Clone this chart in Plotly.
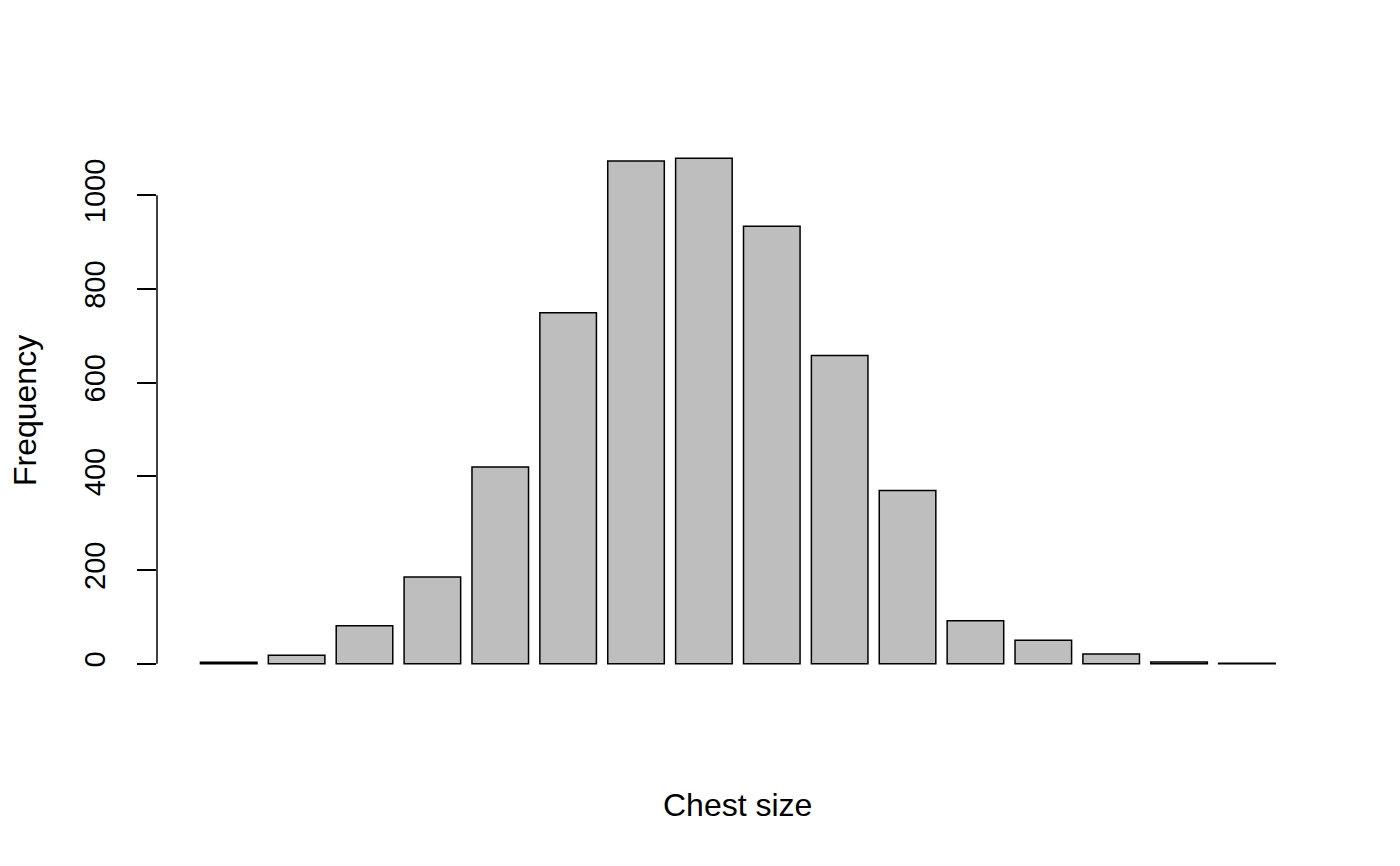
"""Bar chart of chest sizes (Scottish soldiers), R barplot style."""
import plotly.graph_objects as go

FONT = "Liberation Sans, Arial, Helvetica, sans-serif"

chest_size = [33, 34, 35, 36, 37, 38, 39, 40, 41, 42, 43, 44, 45, 46, 47, 48]
count = [3, 18, 81, 185, 420, 749, 1073, 1079, 934, 658, 370, 92, 50, 21, 4, 1]
y_ticks = [0, 200, 400, 600, 800, 1000]

# R barplot geometry: width 1, space 0.2, axis range padded by 4%
bar_pos = [0.7 + 1.2 * i for i in range(len(chest_size))]
x_lo, x_hi = 0.2, 1.2 * len(chest_size) + 0.2
x_pad = 0.04 * (x_hi - x_lo)
y_pad = 0.04 * max(count)

fig = go.Figure(
    go.Bar(
        x=bar_pos,
        y=count,
        width=1,
        customdata=chest_size,
        marker=dict(color="#BEBEBE", line=dict(color="black", width=1.5)),
        hovertemplate="Chest %{customdata}: %{y}<extra></extra>",
    )
)

# page body adds an offset, margins compensate for it
fig.update_layout(
    width=1400,
    height=866,
    margin=dict(l=149, r=78, t=130, b=190),
    plot_bgcolor="white",
    paper_bgcolor="white",
    font=dict(family=FONT, size=29, color="black"),
    showlegend=False,
    xaxis=dict(
        range=[x_lo - x_pad, x_hi + x_pad],
        visible=False,
    ),
    yaxis=dict(
        range=[-y_pad, max(count) + y_pad],
        tickvals=y_ticks,
        ticktext=[str(v) for v in y_ticks],
        tickangle=-90,
        ticks="outside",
        ticklen=19,
        tickwidth=1.5,
        tickcolor="black",
        showline=False,
        showgrid=False,
        zeroline=False,
        tickfont=dict(size=29),
        ticklabelstandoff=20,
    ),
    shapes=[
        dict(
            type="line",
            xref="paper",
            yref="y",
            x0=0,
            x1=0,
            y0=y_ticks[0],
            y1=y_ticks[-1],
            line=dict(color="black", width=1.5),
        )
    ],
    annotations=[
        dict(
            text="Chest size",
            xref="paper",
            yref="paper",
            x=0.495,
            y=-0.2216,
            xanchor="center",
            yanchor="middle",
            showarrow=False,
            font=dict(size=32),
        ),
        dict(
            text="Frequency",
            xref="paper",
            yref="paper",
            x=-0.1125,
            y=0.5,
            textangle=-90,
            xanchor="center",
            yanchor="middle",
            showarrow=False,
            font=dict(size=32),
        ),
    ],
)

fig.write_html("out.html")
